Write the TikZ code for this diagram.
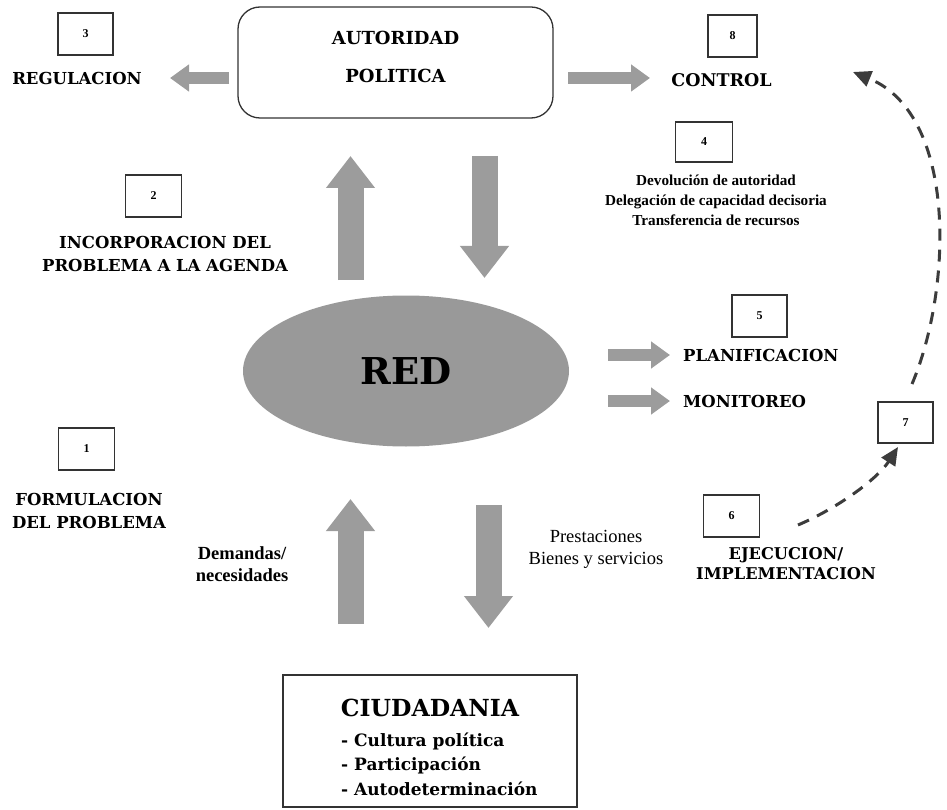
\documentclass[tikz,border=0pt]{standalone}
\usepackage{fontspec}
\setmainfont{Liberation Serif}
\newfontfamily\slab{DejaVu Serif}
\usetikzlibrary{arrows.meta,shapes.geometric}
\definecolor{arrgray}{HTML}{9C9C9C}
\definecolor{redgray}{HTML}{999999}
\definecolor{dashgray}{HTML}{3C3C3C}
\tikzset{
  numbox/.style={draw=black!80,line width=1.2pt,minimum width=55pt,minimum height=42pt,inner sep=0pt,font=\bfseries\fontsize{12}{14}\selectfont},
  caplabel/.style={align=center,font=\slab\bfseries\fontsize{16.5}{23}\selectfont,inner sep=0pt},
  smalllabel/.style={align=center,font=\bfseries\fontsize{15.2}{20}\selectfont,inner sep=0pt},
  smallarrow/.style={draw=arrgray,line width=12pt,-{Triangle[length=19pt,width=26pt]}},
  bigarrow/.style={draw=arrgray,line width=26pt,-{Triangle[length=32pt,width=47pt]}},
  dasharrow/.style={draw=dashgray,line width=3pt,dash pattern=on 12pt off 9pt,-{Triangle[length=18pt,width=16pt]}}
}
\begin{document}
\begin{tikzpicture}[x=1pt,y=-1pt]
\useasboundingbox (0,0) rectangle (947,810);
% main boxes
\node[draw=black!80,line width=1.3pt,rounded corners=22pt,minimum width=315pt,minimum height=111pt,inner sep=0pt] (auth) at (395.5,62.5) {};
\node[align=center,font=\slab\bfseries\fontsize{18}{38}\selectfont,inner sep=0pt] (autht) at (395.5,56.5) {AUTORIDAD\\POLITICA};
\node[ellipse,fill=redgray,minimum width=326pt,minimum height=151pt,inner sep=0pt,font=\slab\bfseries\fontsize{37}{40}\selectfont] (red) at (406,371) {RED};
\node[draw=black!80,line width=1.3pt,minimum width=294pt,minimum height=132pt,inner sep=0pt] (ciud) at (430,741) {};
\node[font=\slab\bfseries\fontsize{23.5}{26}\selectfont,inner sep=0pt] (ciudt) at (430,708) {CIUDADANIA};
\node[anchor=west,align=left,font=\slab\bfseries\fontsize{17}{24.5}\selectfont,inner sep=0pt] (ciudl) at (341,764) {- Cultura política\\- Participación\\- Autodeterminación};
% number boxes
\node[numbox] (n3) at (85.5,34) {3};
\node[numbox,minimum width=49pt] (n8) at (732.5,36) {8};
\node[numbox,minimum width=56pt] (n2) at (153.5,196) {2};
\node[numbox,minimum width=57pt,minimum height=40pt] (n4) at (704,142) {4};
\node[numbox] (n5) at (759.5,316) {5};
\node[numbox,minimum height=41pt] (n7) at (905.5,422.5) {7};
\node[numbox,minimum width=56pt] (n1) at (86.5,449) {1};
\node[numbox,minimum width=56pt] (n6) at (731.5,516) {6};
% labels
\node[caplabel] (reg) at (77,78) {REGULACION};
\node[caplabel,font=\slab\bfseries\fontsize{17.5}{23}\selectfont] (ctl) at (721.5,80) {CONTROL};
\node[caplabel] (inc) at (165,253.5) {INCORPORACION DEL\\PROBLEMA A LA AGENDA};
\node[smalllabel] (dev) at (716,200) {Devolución de autoridad\\Delegación de capacidad decisoria\\Transferencia de recursos};
\node[caplabel,anchor=west] (pla) at (683,355) {PLANIFICACION};
\node[caplabel,anchor=west] (mon) at (683,401) {MONITOREO};
\node[caplabel] (for) at (89,511) {FORMULACION\\DEL PROBLEMA};
\node[smalllabel,font=\bfseries\fontsize{18.5}{22}\selectfont] (dem) at (242,564) {Demandas/\\necesidades};
\node[smalllabel,font=\fontsize{18.5}{22}\selectfont] (pre) at (596,549) {Prestaciones\\Bienes y servicios};
\node[caplabel,font=\slab\bfseries\fontsize{16.2}{20}\selectfont] (eje) at (786,564) {EJECUCION/\\IMPLEMENTACION};
% arrow end coordinates
\coordinate (regS) at (229,78); \coordinate (regE) at (170,78);
\coordinate (ctlS) at (568,78); \coordinate (ctlE) at (650,78);
\coordinate (upaS) at (350.5,280); \coordinate (upaE) at (350.5,156);
\coordinate (dnaS) at (484.5,156); \coordinate (dnaE) at (484.5,278);
\coordinate (plaS) at (608,355); \coordinate (plaE) at (670,355);
\coordinate (monS) at (608,401); \coordinate (monE) at (670,401);
\coordinate (upbS) at (350.5,624); \coordinate (upbE) at (350.5,499);
\coordinate (dnbS) at (488.5,505); \coordinate (dnbE) at (488.5,628);
\draw[smallarrow] (regS) -- (regE);
\draw[smallarrow] (ctlS) -- (ctlE);
\draw[smallarrow] (plaS) -- (plaE);
\draw[smallarrow] (monS) -- (monE);
\draw[bigarrow] (upaS) -- (upaE);
\draw[bigarrow] (dnaS) -- (dnaE);
\draw[bigarrow] (upbS) -- (upbE);
\draw[bigarrow] (dnbS) -- (dnbE);
% dashed
\coordinate (d1S) at (798,525); \coordinate (d1E) at (898,447);
\coordinate (d2S) at (912,384); \coordinate (d2E) at (853,72);
\draw[dasharrow] (d1S) .. controls (840,507) and (878,478) .. (d1E);
\draw[dasharrow] (d2S) .. controls (952,290) and (958,115) .. (d2E);
\end{tikzpicture}
\end{document}
